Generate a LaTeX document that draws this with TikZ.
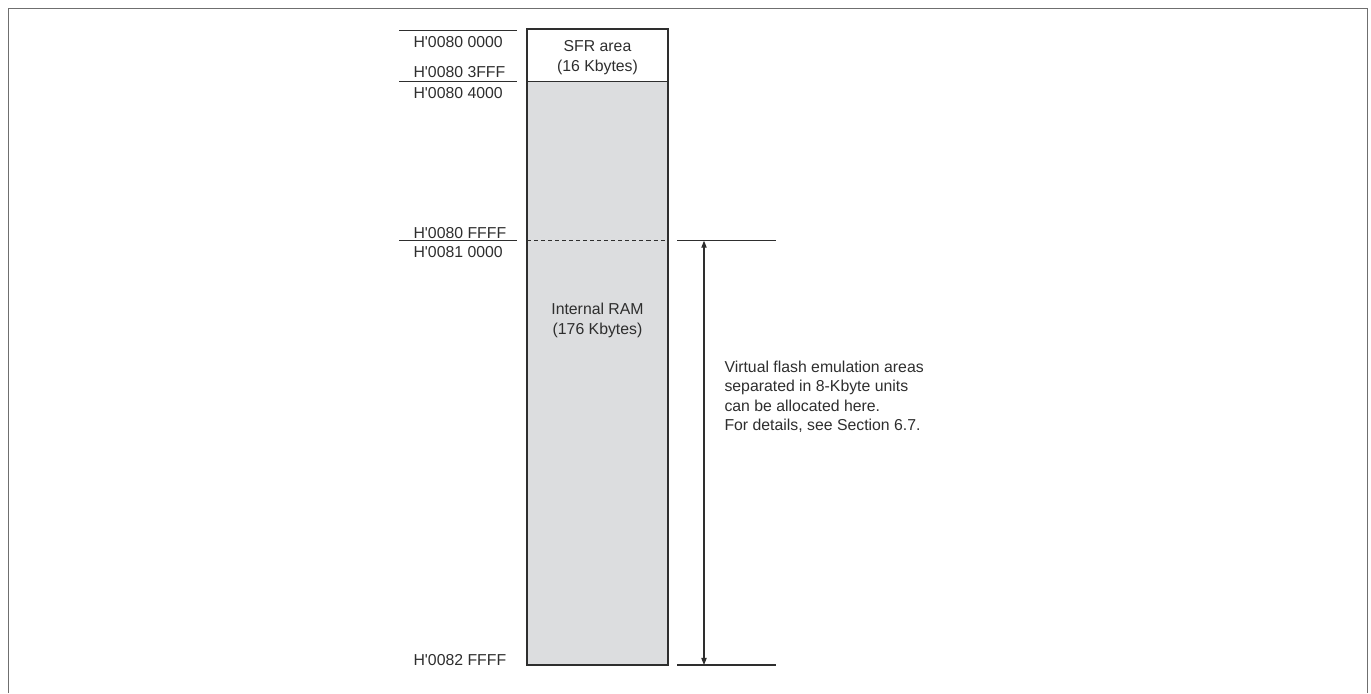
\documentclass[tikz,border=0pt]{standalone}
\usepackage{fontspec}
\newfontfamily\arialike{Liberation Sans}
\usetikzlibrary{arrows.meta}
\definecolor{ink}{HTML}{2E2E2E}
\definecolor{rim}{HTML}{6F6F6F}
\definecolor{ramgray}{HTML}{DCDDDF}

\begin{document}
\begin{tikzpicture}[x=0.02cm,y=-0.02cm,text=ink,draw=ink,line width=.6pt,
  font=\arialike\fontsize{9}{11.1}\selectfont,
  >={Triangle[length=4pt,width=3pt]},
  addr/.style={anchor=base west,inner sep=0pt},
  area/.style={align=center,anchor=base,inner sep=0pt},
  note/.style={align=left,anchor=base west,inner sep=0pt}]
  \useasboundingbox (0,0) rectangle (1371,693);
  \draw[rim,line width=1pt] (8.5,693) -- (8.5,8.5) -- (1367.5,8.5) -- (1367.5,693);

  % memory map
  \coordinate (mapNW) at (527,29);
  \coordinate (sfrSE) at (668,81.7);
  \coordinate (ramNW) at (527,81.7);
  \coordinate (mapSE) at (668,665);
  \fill[ramgray] (ramNW) rectangle (mapSE);
  \draw (mapNW) rectangle (mapSE);
  \draw (ramNW) -- (sfrSE);
  \draw[dash pattern=on 2.3pt off 1.7pt] (527,240.7) -- (668,240.7);

  % base = last line
  \node[area] (sfr) at (597.5,71.5) {SFR area\\(16 Kbytes)};
  \node[area] (ram) at (597.5,334) {Internal RAM\\(176 Kbytes)};

  % address ticks
  \draw (399,30.7) -- (517,30.7);
  \draw (399,81.7) -- (517,81.7);
  \draw (399,240.7) -- (517,240.7);
  \node[addr] (a0) at (413,47) {H'0080 0000};
  \node[addr] (a1) at (413,77) {H'0080 3FFF};
  \node[addr] (a2) at (413,98) {H'0080 4000};
  \node[addr] (a3) at (413,238) {H'0080 FFFF};
  \node[addr] (a4) at (413,257) {H'0081 0000};
  \node[addr] (a5) at (413,665) {H'0082 FFFF};

  % emulation range
  \coordinate (vfTop) at (704,240.7);
  \coordinate (vfBot) at (704,665);
  \draw (677,240.7) -- (776,240.7);
  \draw (677,665) -- (776,665);
  \draw[<->] (vfTop) -- (vfBot);
  \node[note] (vf) at (724,430.5)
    {Virtual flash emulation areas\\separated in 8-Kbyte units\\
     can be allocated here.\\For details, see Section 6.7.};
\end{tikzpicture}
\end{document}
